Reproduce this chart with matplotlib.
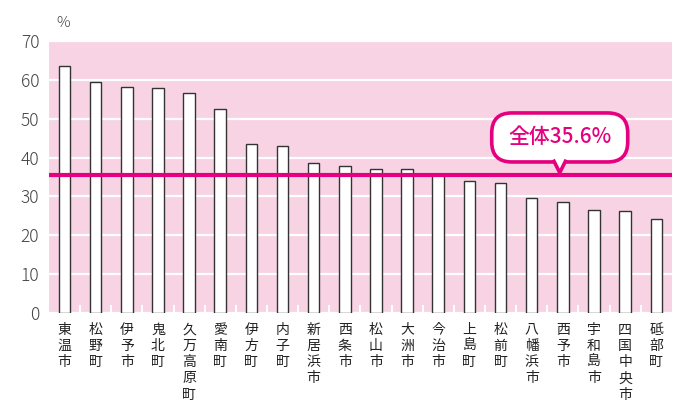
import matplotlib.pyplot as plt
import matplotlib.transforms as mtransforms
from matplotlib.patches import FancyBboxPatch, Polygon

plt.rcParams['font.family'] = ['Noto Sans CJK JP', 'DejaVu Sans']

# data
towns = ['東温市', '松野町', '伊予市', '鬼北町', '久万高原町', '愛南町', '伊方町', '内子町',
         '新居浜市', '西条市', '松山市', '大洲市', '今治市', '上島町', '松前町', '八幡浜市',
         '西予市', '宇和島市', '四国中央市', '砥部町']
rates = [63.6, 59.5, 58.2, 57.9, 56.6, 52.5, 43.5, 42.9, 38.7, 37.8,
         37.1, 37.1, 35.4, 33.9, 33.5, 29.7, 28.5, 26.5, 26.2, 24.3]
overall = 35.6
overall_label = '全体35.6%'

pink_bg = '#F8D3E4'
magenta = '#E5007F'
grey_txt = '#444444'

fig = plt.figure(figsize=(6.8, 4.05), dpi=100)
ax = fig.add_axes([0.072, 0.2272, 0.916, 0.6716])
ax.set_facecolor(pink_bg)

x = list(range(len(towns)))
ax.bar(x, rates, width=0.37, color='white', edgecolor='#333333', linewidth=1.0, zorder=3)

ax.axhline(overall, color=magenta, linewidth=3, zorder=4)

ax.set_xlim(-0.5, len(towns) - 0.5)
ax.set_ylim(0, 70)
ax.set_yticks(range(0, 71, 10))
ax.yaxis.grid(True, color='white', linewidth=1.6, zorder=1)
ax.set_axisbelow(True)
for s in ax.spines.values():
    s.set_visible(False)

ax.tick_params(axis='y', length=0, pad=7, labelsize=12.5, labelcolor=grey_txt)
for lab in ax.get_yticklabels():
    lab.set_fontweight('light')
ax.set_xticks(x)
ax.set_xticklabels(['\n'.join(t) for t in towns], fontsize=10, color='#222222',
                   linespacing=1.2, va='top')
ax.tick_params(axis='x', which='major', length=0, pad=7)
ax.set_xticks([i + 0.5 for i in x[:-1]], minor=True)
ax.tick_params(axis='x', which='minor', direction='in', length=6, width=1.5,
               color='white', zorder=2)

ax.text(0.012, 1.04, '%', transform=ax.transAxes, fontsize=11, color=grey_txt,
        ha='left', va='bottom', fontweight='light')

# callout bubble, sized in inches around the point on the overall line
anchor = fig.dpi_scale_trans + mtransforms.ScaledTranslation(15.9, overall, ax.transData)
box = FancyBboxPatch((-0.68, 0.127), 1.36, 0.49,
                     boxstyle='round,pad=0,rounding_size=0.2',
                     facecolor='white', edgecolor=magenta, linewidth=2.6,
                     transform=anchor, zorder=6, clip_on=False)
ax.add_patch(box)
tip = Polygon([(-0.065, 0.15), (0, 0.02), (0.065, 0.15)], closed=False,
              facecolor='white', edgecolor=magenta, linewidth=2.6,
              transform=anchor, zorder=7, clip_on=False)
ax.add_patch(tip)
ax.text(0, 0.377, overall_label, transform=anchor, ha='center', va='center',
        fontsize=15, color=magenta, fontweight='medium', zorder=8)

fig.savefig('out.png', dpi=100)
